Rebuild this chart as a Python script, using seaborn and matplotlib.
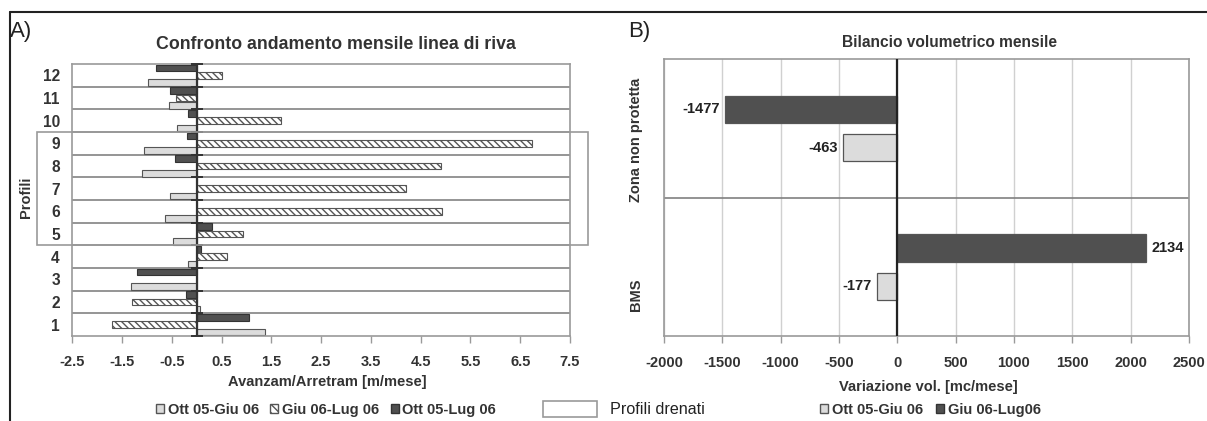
import numpy as np
import pandas as pd
import matplotlib
matplotlib.use("Agg")
import matplotlib.pyplot as plt
import matplotlib.transforms as mtransforms
from matplotlib.patches import Patch, Rectangle
from matplotlib.lines import Line2D
import seaborn as sns

# ---------------- data ----------------
profili = ["12", "11", "10", "9", "8", "7", "6", "5", "4", "3", "2", "1"]
ott05_giu06 = [-0.98, -0.55, -0.39, -1.06, -1.10, -0.53, -0.63, -0.47, -0.17, -1.33, 0.06, 1.38]
giu06_lug06 = [0.50, -0.41, 1.70, 6.73, 4.90, 4.20, 4.92, 0.93, 0.60, 0.0, -1.31, -1.71]
ott05_lug06 = [-0.81, -0.54, -0.17, -0.19, -0.44, 0.0, 0.0, 0.30, 0.08, -1.19, -0.22, 1.05]
serie_A = ["Ott 05-Giu 06", "Giu 06-Lug 06", "Ott 05-Lug 06"]
drenati = ["9", "8", "7", "6", "5"]
xticks_A = [-2.5, -1.5, -0.5, 0.5, 1.5, 2.5, 3.5, 4.5, 5.5, 6.5, 7.5]

zone = ["Zona non protetta", "BMS"]
vol_ott05_giu06 = [-463, -177]
vol_giu06_lug06 = [-1477, 2134]
serie_B = ["Ott 05-Giu 06", "Giu 06-Lug06"]
xticks_B = [-2000, -1500, -1000, -500, 0, 500, 1000, 1500, 2000, 2500]

# ---------------- style ----------------
sns.set_style("white")
plt.rcParams["font.family"] = ["Liberation Sans", "DejaVu Sans"]
plt.rcParams["hatch.linewidth"] = 1.0
plt.rcParams["axes.unicode_minus"] = False
TXT = "#333333"
LIGHT = "#dcdcdc"
DARK = "#505050"
BORDER = "#9a9a9a"

W, H = 1207, 421
fig = plt.figure(figsize=(W / 100, H / 100), dpi=100)

def fx(px):
    return px / W

def fy(py):
    return 1 - py / H

# ---------------- panel A ----------------
axA = fig.add_axes([fx(72.3), fy(336), fx(570) - fx(72.3), fy(64) - fy(336)])
dfA = pd.DataFrame({
    "profilo": profili * 3,
    "valore": ott05_giu06 + giu06_lug06 + ott05_lug06,
    "serie": [serie_A[0]] * 12 + [serie_A[1]] * 12 + [serie_A[2]] * 12,
})
palA = {serie_A[0]: LIGHT, serie_A[1]: "#ffffff", serie_A[2]: DARK}
sns.barplot(data=dfA, y="profilo", x="valore", hue="serie", order=profili,
            hue_order=[serie_A[2], serie_A[1], serie_A[0]], palette=palA,
            orient="h", width=0.96, gap=0.06, legend=False, ax=axA,
            edgecolor="#555555", linewidth=0.8, saturation=1)
for p in axA.patches:
    fc = p.get_facecolor()
    if np.allclose(fc[:3], (1, 1, 1)):
        p.set_hatch("\\\\\\\\\\")
        p.set_edgecolor("#555555")
    elif np.allclose(fc[:3], matplotlib.colors.to_rgb(DARK)):
        p.set_edgecolor("#333333")

n = len(profili)
axA.set_xlim(-2.5, 7.5)
axA.set_ylim(n - 0.5, -0.5)
bounds = np.arange(n + 1) - 0.5
for b in bounds[1:-1]:
    axA.axhline(b, color="#8c8c8c", lw=1.3, zorder=0.5)
axA.axvline(0, color="#333333", lw=1.6, zorder=3)
axA.plot(np.zeros(n + 1), bounds, ls="none", marker="_", markersize=8,
         mew=1.4, color="#333333", clip_on=False, zorder=4)
axA.set_xticks(xticks_A)
axA.set_xticklabels([f"{t:g}" for t in xticks_A])
axA.set_xlabel("")
axA.set_ylabel("")
axA.tick_params(axis="x", length=5, width=1, color=BORDER, pad=9,
                labelsize=10.5, labelcolor=TXT, direction="out", bottom=True)
axA.tick_params(axis="y", length=0, pad=9, labelsize=11.2, labelcolor=TXT)
for lab in axA.get_xticklabels() + axA.get_yticklabels():
    lab.set_fontweight("bold")
for s in axA.spines.values():
    s.set_color(BORDER)
    s.set_linewidth(1.2)

# "Profili drenati" box spanning profiles 9..5
i_top = profili.index(drenati[0]) - 0.5
i_bot = profili.index(drenati[-1]) + 0.5
trans = mtransforms.blended_transform_factory(fig.transFigure, axA.transData)
fig.add_artist(Rectangle((fx(37), i_top), fx(587.7) - fx(37), i_bot - i_top,
                         transform=trans, fill=False, edgecolor="#9a9a9a",
                         lw=1.2, zorder=5))

fig.text(fx(26), fy(197), "Profili", rotation=90, ha="center", va="center",
         fontsize=10.5, fontweight="bold", color=TXT)
fig.text(fx(336), fy(49), "Confronto andamento mensile linea di riva",
         ha="center", va="baseline", fontsize=12.8, fontweight="bold", color=TXT)
fig.text(fx(327.5), fy(381.7), "Avanzam/Arretram [m/mese]", ha="center",
         va="center", fontsize=10.5, fontweight="bold", color=TXT)
fig.text(fx(10), fy(37), "A)", ha="left", va="baseline", fontsize=16, color="#222222")

legA = fig.legend(handles=[
    Patch(facecolor=LIGHT, edgecolor="#555555", label=serie_A[0]),
    Patch(facecolor="white", edgecolor="#555555", hatch="\\\\\\\\", label=serie_A[1]),
    Patch(facecolor=DARK, edgecolor="#333333", label=serie_A[2])],
    loc="center", bbox_to_anchor=(fx(326), fy(410)), ncol=3, frameon=False,
    handlelength=0.55, handleheight=0.55, handletextpad=0.25, columnspacing=0.8,
    prop={"size": 10.5, "weight": "bold"})
for t in legA.get_texts():
    t.set_color(TXT)

fig.add_artist(Rectangle((fx(543), fy(417)), fx(597) - fx(543), fy(400.7) - fy(417),
                         transform=fig.transFigure, fill=False, edgecolor="#9a9a9a", lw=1.2))
fig.text(fx(610), fy(409), "Profili drenati", ha="left", va="center",
         fontsize=11.6, color="#222222")

# ---------------- panel B ----------------
axB = fig.add_axes([fx(664), fy(336.3), fx(1189) - fx(664), fy(59.3) - fy(336.3)])
dfB = pd.DataFrame({
    "zona": zone * 2,
    "valore": vol_ott05_giu06 + vol_giu06_lug06,
    "serie": [serie_B[0]] * 2 + [serie_B[1]] * 2,
})
palB = {serie_B[0]: LIGHT, serie_B[1]: DARK}
sns.barplot(data=dfB, y="zona", x="valore", hue="serie", order=zone,
            hue_order=[serie_B[1], serie_B[0]], palette=palB, orient="h",
            width=0.552, gap=0.29, legend=False, ax=axB,
            edgecolor="#555555", linewidth=0.9, saturation=1)
for c in axB.containers:
    axB.bar_label(c, fmt="{:.0f}", padding=4, fontsize=10.5,
                  fontweight="bold", color="#222222")
axB.set_xlim(-2000, 2500)
axB.set_ylim(1.5, -0.5)
axB.set_xticks(xticks_B)
axB.grid(axis="x", color="#d0d0d0", lw=1)
axB.set_axisbelow(True)
axB.axhline(0.5, color="#808080", lw=1.2)
axB.axvline(0, color="#222222", lw=1.6, zorder=3)
# rotated category labels sit slightly below the category centres in the original
axB.set_yticks([0.08, 1.2])
axB.set_yticklabels(zone)
axB.set_xlabel("")
axB.set_ylabel("")
axB.tick_params(axis="x", length=5, width=1, color=BORDER, pad=9,
                labelsize=10.5, labelcolor=TXT, direction="out", bottom=True)
axB.tick_params(axis="y", length=0, pad=20, labelsize=10.5, labelcolor=TXT)
for lab in axB.get_xticklabels():
    lab.set_fontweight("bold")
for lab in axB.get_yticklabels():
    lab.set_fontweight("bold")
    lab.set_rotation(90)
    lab.set_ha("center")
    lab.set_va("center")
for s in axB.spines.values():
    s.set_color(BORDER)
    s.set_linewidth(1.2)

fig.text(fx(949.5), fy(47), "Bilancio volumetrico mensile", ha="center",
         va="baseline", fontsize=11.2, fontweight="bold", color=TXT)
fig.text(fx(928.5), fy(386.7), "Variazione vol. [mc/mese]", ha="center",
         va="center", fontsize=10.5, fontweight="bold", color=TXT)
fig.text(fx(628), fy(37), "B)", ha="left", va="baseline", fontsize=16, color="#222222")

legB = fig.legend(handles=[
    Patch(facecolor=LIGHT, edgecolor="#555555", label=serie_B[0]),
    Patch(facecolor=DARK, edgecolor="#333333", label=serie_B[1])],
    loc="center", bbox_to_anchor=(fx(930.5), fy(410)), ncol=2, frameon=False,
    handlelength=0.55, handleheight=0.55, handletextpad=0.25, columnspacing=0.9,
    prop={"size": 10.5, "weight": "bold"})
for t in legB.get_texts():
    t.set_color(TXT)

# outer frame lines
fig.add_artist(Line2D([fx(10), 1], [fy(12), fy(12)], transform=fig.transFigure,
                      color="#222222", lw=1.5))
fig.add_artist(Line2D([fx(10), fx(10)], [0, fy(12)], transform=fig.transFigure,
                      color="#222222", lw=1.5))

fig.savefig("out.png", dpi=100)
